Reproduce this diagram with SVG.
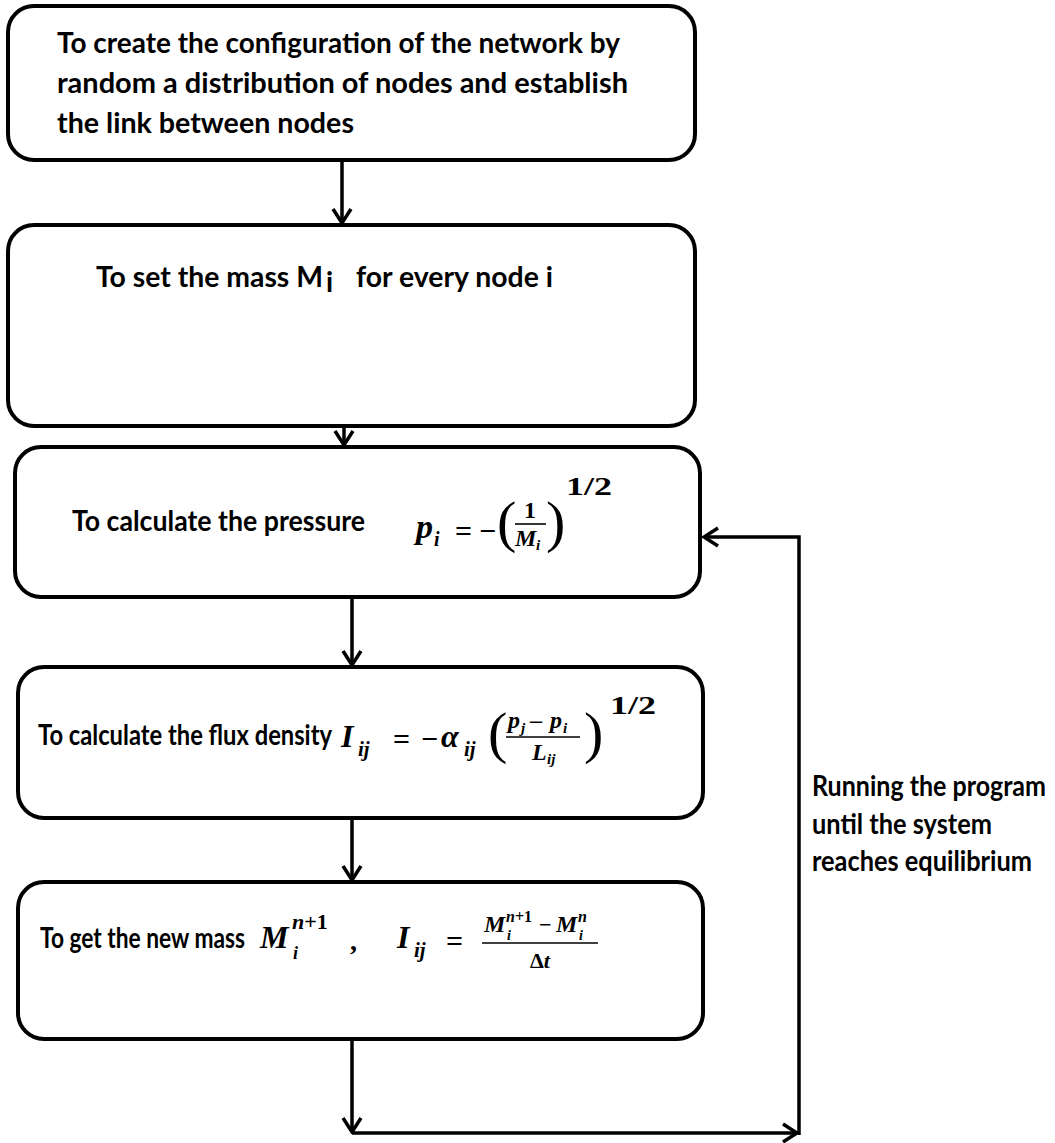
<svg xmlns="http://www.w3.org/2000/svg" width="1055" height="1143" viewBox="0 0 1055 1143">
<defs>
<style>
.box{fill:#fff;stroke:#000;stroke-width:4}
.conn{fill:none;stroke:#000;stroke-width:3.5}
.t{font-family:Lato,"Open Sans","Liberation Sans",sans-serif;font-weight:bold;font-size:28px;fill:#000}
.m{font-family:"Liberation Serif",serif;font-weight:bold;font-style:italic;fill:#000}
.n{font-family:"Liberation Serif",serif;font-weight:bold;font-style:normal;fill:#000}
.p{font-family:"Liberation Serif",serif;font-weight:normal;font-style:normal;fill:#000}
.bar{stroke:#000;stroke-width:1.6}
</style>
<marker id="ah" viewBox="0 0 18 22" refX="16" refY="11" markerWidth="18" markerHeight="22" markerUnits="userSpaceOnUse" orient="auto">
<path d="M2,2 L16,11 L2,20" fill="none" stroke="#000" stroke-width="3.5"/>
</marker>
</defs>
<rect width="1055" height="1143" fill="#fff"/>

<g id="connectors">
<path class="conn" d="M342,160 L342,223" marker-end="url(#ah)"/>
<path class="conn" d="M344,426 L344,445" marker-end="url(#ah)"/>
<path class="conn" d="M352,597 L352,665" marker-end="url(#ah)"/>
<path class="conn" d="M352,818 L352,880" marker-end="url(#ah)"/>
<path class="conn" d="M352,1039 L352,1132" marker-end="url(#ah)"/>
<path class="conn" d="M352,1133 L797,1133" marker-end="url(#ah)"/>
<path class="conn" d="M799,1135 L799,537 L704,537" marker-end="url(#ah)"/>
</g>

<g id="node1">
<rect class="box" x="8" y="6" width="687" height="154" rx="26"/>
<text class="t" x="57" y="53" textLength="563" lengthAdjust="spacingAndGlyphs">To create the configuration of the network by</text>
<text class="t" x="57" y="93" textLength="571" lengthAdjust="spacingAndGlyphs">random a distribution of nodes and establish</text>
<text class="t" x="57" y="133" textLength="297" lengthAdjust="spacingAndGlyphs">the link between nodes</text>
</g>

<g id="node2">
<rect class="box" x="8" y="225" width="687" height="201" rx="26"/>
<text class="t" x="96" y="287" textLength="227" lengthAdjust="spacingAndGlyphs">To set the mass M</text>
<text class="t" x="326" y="292" font-size="16">i</text>
<text class="t" x="356" y="287" textLength="197" lengthAdjust="spacingAndGlyphs">for every node i</text>
</g>

<g id="node3">
<rect class="box" x="15" y="447" width="685" height="150" rx="26"/>
<text class="t" x="72" y="531" textLength="293" lengthAdjust="spacingAndGlyphs">To calculate the pressure</text>
<text class="m" font-size="34"><tspan x="416" y="538">p</tspan><tspan x="434" y="546" font-size="20">i</tspan><tspan class="n" x="455" y="541" font-size="30">=</tspan><tspan class="n" x="479" y="541" font-size="30">−</tspan></text>
<text class="p" x="497" y="541" font-size="58">(</text>
<text class="n" x="530" y="518" font-size="24" text-anchor="middle">1</text>
<line class="bar" x1="515" y1="524" x2="546" y2="524"/>
<text class="m" font-size="24"><tspan x="515" y="546">M</tspan><tspan x="536" y="550" font-size="15">i</tspan></text>
<text class="p" x="546" y="541" font-size="58">)</text>
<text class="n" x="566" y="495" font-size="26" textLength="46" lengthAdjust="spacingAndGlyphs">1/2</text>
</g>

<g id="node4">
<rect class="box" x="18" y="667" width="685" height="151" rx="26"/>
<text class="t" x="38" y="745" font-size="24" textLength="294" lengthAdjust="spacingAndGlyphs">To calculate the flux density</text>
<text class="m" font-size="32"><tspan x="341" y="747">I</tspan><tspan x="358" y="756" font-size="21">ij</tspan><tspan class="n" x="393" y="749" font-size="30">=</tspan><tspan class="n" x="421" y="749" font-size="30">−</tspan><tspan x="441" y="747">α</tspan><tspan x="464" y="756" font-size="21">ij</tspan></text>
<text class="p" x="488" y="752" font-size="58">(</text>
<text class="m" font-size="24"><tspan x="508" y="728">p</tspan><tspan x="521" y="733" font-size="15">j</tspan><tspan class="n" x="530" y="728">–</tspan><tspan x="550" y="728">p</tspan><tspan x="563" y="733" font-size="15">i</tspan></text>
<line class="bar" x1="506" y1="737" x2="580" y2="737"/>
<text class="m" font-size="24"><tspan x="532" y="760">L</tspan><tspan x="547" y="764" font-size="15">ij</tspan></text>
<text class="p" x="584" y="752" font-size="58">)</text>
<text class="n" x="610" y="714" font-size="26" textLength="46" lengthAdjust="spacingAndGlyphs">1/2</text>
</g>

<g id="node5">
<rect class="box" x="18" y="882" width="685" height="157" rx="26"/>
<text class="t" x="40" y="948" font-size="23" textLength="205" lengthAdjust="spacingAndGlyphs">To get the new mass</text>
<text class="m" font-size="32"><tspan x="260" y="948">M</tspan><tspan x="292" y="929" font-size="22">n</tspan><tspan class="n" font-size="22">+1</tspan><tspan x="293" y="959" font-size="18">i</tspan><tspan class="n" x="350" y="950" font-size="28">,</tspan></text>
<text class="m" font-size="32"><tspan x="397" y="948">I</tspan><tspan x="414" y="957" font-size="21">ij</tspan><tspan class="n" x="446" y="951" font-size="30">=</tspan></text>
<text class="m" font-size="24"><tspan x="484" y="932">M</tspan><tspan x="506" y="922" font-size="16">n</tspan><tspan class="n" font-size="16">+1</tspan><tspan x="507" y="940" font-size="14">i</tspan><tspan class="n" x="539" y="932" font-size="22">−</tspan><tspan x="556" y="932">M</tspan><tspan x="578" y="922" font-size="16">n</tspan><tspan x="579" y="940" font-size="14">i</tspan></text>
<line class="bar" x1="482" y1="943" x2="598" y2="943"/>
<text class="n" x="540" y="968" font-size="22" text-anchor="middle">Δ<tspan class="m">t</tspan></text>
</g>

<g id="label">
<text class="t" x="812" y="796" font-size="23" textLength="234" lengthAdjust="spacingAndGlyphs">Running the program</text>
<text class="t" x="812" y="834" font-size="23" textLength="180" lengthAdjust="spacingAndGlyphs">until the system</text>
<text class="t" x="812" y="871" font-size="23" textLength="220" lengthAdjust="spacingAndGlyphs">reaches equilibrium</text>
</g>
</svg>
